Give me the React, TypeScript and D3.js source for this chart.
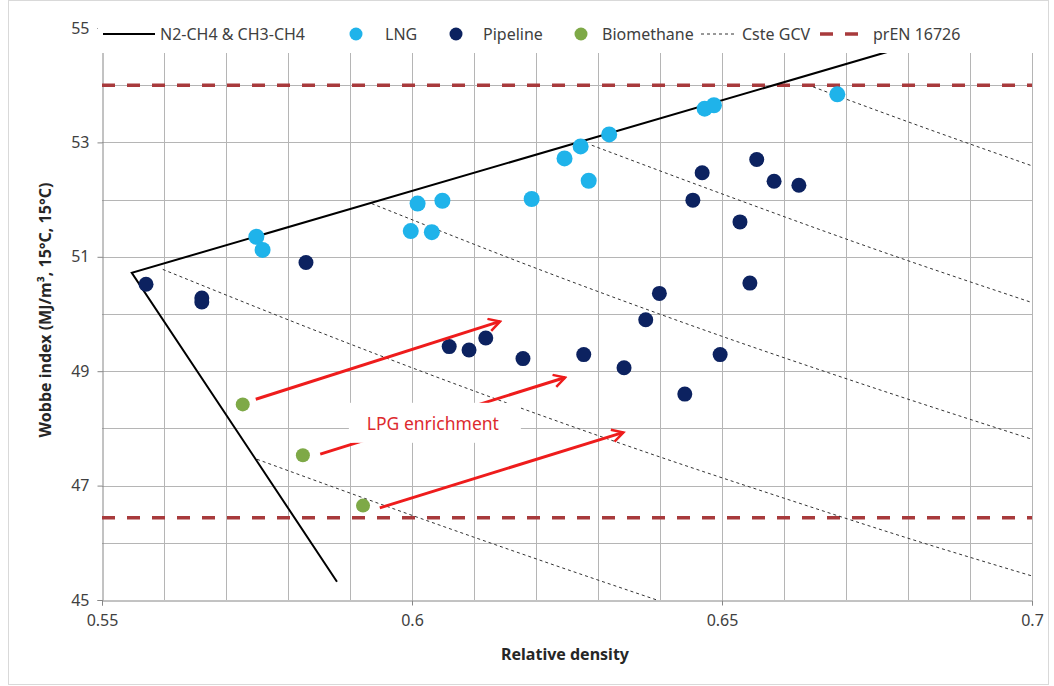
import React, { useEffect, useRef } from 'react'
import * as d3 from 'd3'

type Pt = [number, number]

// relative density, Wobbe index
const lngPoints: Pt[] = [
  [0.5749, 51.35], [0.5759, 51.12], [0.5998, 51.45], [0.6032, 51.43], [0.6009, 51.93],
  [0.6049, 51.98], [0.6193, 52.01], [0.6246, 52.72], [0.6272, 52.93], [0.6285, 52.33],
  [0.6318, 53.14], [0.6472, 53.59], [0.6487, 53.65], [0.6686, 53.84]
]

const pipelinePoints: Pt[] = [
  [0.5571, 50.52], [0.5661, 50.28], [0.5661, 50.21], [0.5829, 50.9], [0.606, 49.43],
  [0.6092, 49.37], [0.6119, 49.58], [0.6179, 49.22], [0.6277, 49.29], [0.6342, 49.06],
  [0.6377, 49.9], [0.6399, 50.36], [0.644, 48.6], [0.6453, 51.99], [0.6468, 52.47],
  [0.6497, 49.29], [0.6529, 51.61], [0.6545, 50.54], [0.6556, 52.7], [0.6584, 52.32],
  [0.6624, 52.25]
]

const biomethanePoints: Pt[] = [
  [0.5727, 48.42], [0.5824, 47.53], [0.5921, 46.65]
]

// N2-CH4 & CH3-CH4 envelope
const envelope: Pt[] = [
  [0.5879, 45.32], [0.5548, 50.72], [0.682, 54.75]
]

// constant GCV lines
const gcvLines: Pt[][] = [
  [[0.575, 47.46], [0.6, 46.48], [0.62, 45.72], [0.6395, 45.0]],
  [[0.5598, 50.78], [0.58, 49.9], [0.6, 49.06], [0.62, 48.26], [0.64, 47.5], [0.66, 46.78], [0.68, 46.08], [0.7, 45.42]],
  [[0.5935, 51.93], [0.62, 50.8], [0.65, 49.61], [0.675, 48.69], [0.7, 47.81]],
  [[0.629, 52.95], [0.65, 52.1], [0.675, 51.12], [0.7, 50.2]],
  [[0.6647, 53.97], [0.68, 53.36], [0.7, 52.59]]
]

const prEnLimits = [46.44, 54.0]

const enrichmentArrows: Pt[][] = [
  [[0.5748, 48.51], [0.6142, 49.87]],
  [[0.5852, 47.55], [0.6247, 48.89]],
  [[0.5948, 46.61], [0.6341, 47.93]]
]

const xTicks = [0.55, 0.6, 0.65, 0.7]
const yTicks = [45, 47, 49, 51, 53, 55]

const FONT = '"Noto Sans", "Open Sans", sans-serif'

export default function App() {
  const ref = useRef<SVGSVGElement | null>(null)

  useEffect(() => {
    if (!ref.current) {
      return
    }
    const width = 1054
    const height = 686
    const svg = d3.select(ref.current)
    svg.attr('viewBox', `0 0 ${width} ${height}`)
    svg.selectAll('*').remove()

    const x = d3.scaleLinear().domain([0.55, 0.7]).range([102, 1032])
    const y = d3.scaleLinear().domain([45, 55]).range([600, 28])

    svg.append('rect').attr('width', width).attr('height', height).attr('fill', '#fff')
    svg
      .append('rect')
      .attr('x', 8.5)
      .attr('y', 0.5)
      .attr('width', 1040)
      .attr('height', 684)
      .attr('fill', 'none')
      .attr('stroke', '#d9d9d9')

    // grid
    const grid = svg.append('g')
    grid
      .selectAll('line.v')
      .data(d3.range(0.56, 0.7001, 0.01))
      .enter()
      .append('line')
      .attr('x1', (d) => Math.round(x(d)) + 0.5)
      .attr('x2', (d) => Math.round(x(d)) + 0.5)
      .attr('y1', y(55))
      .attr('y2', y(45))
      .attr('stroke', '#b5b5b5')
    grid
      .selectAll('line.h')
      .data(d3.range(46, 55.01, 1))
      .enter()
      .append('line')
      .attr('x1', x(0.55))
      .attr('x2', x(0.7))
      .attr('y1', (d) => Math.round(y(d)) + 0.5)
      .attr('y2', (d) => Math.round(y(d)) + 0.5)
      .attr('stroke', '#b5b5b5')

    // axes
    const xAxis = svg
      .append('g')
      .attr('transform', `translate(0,${Math.round(y(45)) + 0.5})`)
      .call(d3.axisBottom(x).tickValues(xTicks).tickSize(5).tickPadding(9).tickFormat((d) => `${+d}`))
    const yAxis = svg
      .append('g')
      .attr('transform', `translate(${Math.round(x(0.55)) + 0.5},0)`)
      .call(d3.axisLeft(y).tickValues(yTicks).tickSize(5).tickPadding(8).tickFormat((d) => `${d}`))
    ;[xAxis, yAxis].forEach((axis) => {
      axis.select('.domain').attr('stroke', '#868686')
      axis.selectAll('.tick line').attr('stroke', '#868686')
      axis.selectAll('.tick text').attr('fill', '#404040').attr('font-size', 16).attr('font-family', FONT)
    })

    // prEN 16726 limits
    svg
      .selectAll('line.pren')
      .data(prEnLimits)
      .enter()
      .append('line')
      .attr('x1', x(0.55))
      .attr('x2', x(0.7))
      .attr('y1', (d) => y(d))
      .attr('y2', (d) => y(d))
      .attr('stroke', '#a83a3c')
      .attr('stroke-width', 3.5)
      .attr('stroke-dasharray', '13,12')

    const line = d3
      .line<Pt>()
      .x((d) => x(d[0]))
      .y((d) => y(d[1]))

    // GCV lines
    svg
      .selectAll('path.gcv')
      .data(gcvLines)
      .enter()
      .append('path')
      .attr('d', (d) => line.curve(d3.curveMonotoneX)(d))
      .attr('fill', 'none')
      .attr('stroke', '#333')
      .attr('stroke-width', 1)
      .attr('stroke-dasharray', '3,3')

    // envelope
    svg
      .append('path')
      .attr('d', line.curve(d3.curveLinear)(envelope))
      .attr('fill', 'none')
      .attr('stroke', '#000')
      .attr('stroke-width', 2)

    const dots = (pts: Pt[], r: number, fill: string) => {
      svg
        .append('g')
        .selectAll('circle')
        .data(pts)
        .enter()
        .append('circle')
        .attr('cx', (d) => x(d[0]))
        .attr('cy', (d) => y(d[1]))
        .attr('r', r)
        .attr('fill', fill)
    }
    dots(pipelinePoints, 7.5, '#0c2260')
    dots(lngPoints, 8, '#1fb3ea')
    dots(biomethanePoints, 7, '#7ea947')

    // arrows
    const defs = svg.append('defs')
    defs
      .append('marker')
      .attr('id', 'arrowhead')
      .attr('viewBox', '0 0 12 12')
      .attr('refX', 10)
      .attr('refY', 6)
      .attr('markerWidth', 5)
      .attr('markerHeight', 5)
      .attr('markerUnits', 'strokeWidth')
      .attr('orient', 'auto')
      .append('path')
      .attr('d', 'M1,1 L10,6 L1,11')
      .attr('fill', 'none')
      .attr('stroke', '#ee1c1c')
      .attr('stroke-width', 2)
    svg
      .selectAll('path.arrow')
      .data(enrichmentArrows)
      .enter()
      .append('path')
      .attr('d', (d) => line.curve(d3.curveLinear)(d))
      .attr('stroke', '#ee1c1c')
      .attr('stroke-width', 3)
      .attr('marker-end', 'url(#arrowhead)')

    // annotation
    const ax = x(0.6024)
    const ay = y(48.08)
    svg
      .append('rect')
      .attr('x', ax - 78)
      .attr('y', ay - 21)
      .attr('width', 172)
      .attr('height', 40)
      .attr('fill', '#fff')
    svg
      .append('text')
      .attr('x', ax + 6)
      .attr('y', ay + 6)
      .attr('text-anchor', 'middle')
      .attr('font-family', FONT)
      .attr('font-size', 17.5)
      .attr('fill', '#dd2a2e')
      .text('LPG enrichment')

    // legend
    const legend = svg.append('g').attr('font-family', FONT).attr('font-size', 16).attr('fill', '#404040')
    legend.append('rect').attr('x', 98).attr('y', 16).attr('width', 940).attr('height', 37).attr('fill', '#fff')
    const ly = 34
    legend.append('line').attr('x1', 103).attr('x2', 155).attr('y1', ly).attr('y2', ly).attr('stroke', '#000').attr('stroke-width', 2)
    legend.append('text').attr('x', 160).attr('y', ly + 5.5).text('N2-CH4 & CH3-CH4')
    legend.append('circle').attr('cx', 356).attr('cy', ly).attr('r', 6.5).attr('fill', '#1fb3ea')
    legend.append('text').attr('x', 385).attr('y', ly + 5.5).text('LNG')
    legend.append('circle').attr('cx', 456).attr('cy', ly).attr('r', 6.5).attr('fill', '#0c2260')
    legend.append('text').attr('x', 483).attr('y', ly + 5.5).text('Pipeline')
    legend.append('circle').attr('cx', 581).attr('cy', ly).attr('r', 6.5).attr('fill', '#7ea947')
    legend.append('text').attr('x', 602).attr('y', ly + 5.5).text('Biomethane')
    legend.append('line').attr('x1', 701).attr('x2', 736).attr('y1', ly).attr('y2', ly).attr('stroke', '#333').attr('stroke-dasharray', '3,3')
    legend.append('text').attr('x', 742).attr('y', ly + 5.5).text('Cste GCV')
    legend.append('line').attr('x1', 820).attr('x2', 860).attr('y1', ly).attr('y2', ly).attr('stroke', '#a83a3c').attr('stroke-width', 3.5).attr('stroke-dasharray', '13,12')
    legend.append('text').attr('x', 873).attr('y', ly + 5.5).text('prEN 16726')

    // axis titles
    svg
      .append('text')
      .attr('x', 565)
      .attr('y', 660)
      .attr('text-anchor', 'middle')
      .attr('font-family', FONT)
      .attr('font-size', 16)
      .attr('font-weight', 'bold')
      .attr('fill', '#262626')
      .text('Relative density')
    svg
      .append('text')
      .attr('transform', `translate(51,310) rotate(-90)`)
      .attr('text-anchor', 'middle')
      .attr('font-family', FONT)
      .attr('font-size', 16)
      .attr('font-weight', 'bold')
      .attr('fill', '#262626')
      .text('Wobbe index (MJ/m³, 15°C, 15°C)')
  }, [])

  return (
    <svg
      ref={ref}
      width={1054}
      height={686}
      style={{ position: 'absolute', left: 0, top: 0, display: 'block' }}
      role="img"
      aria-label="Wobbe index vs relative density"
    />
  )
}
